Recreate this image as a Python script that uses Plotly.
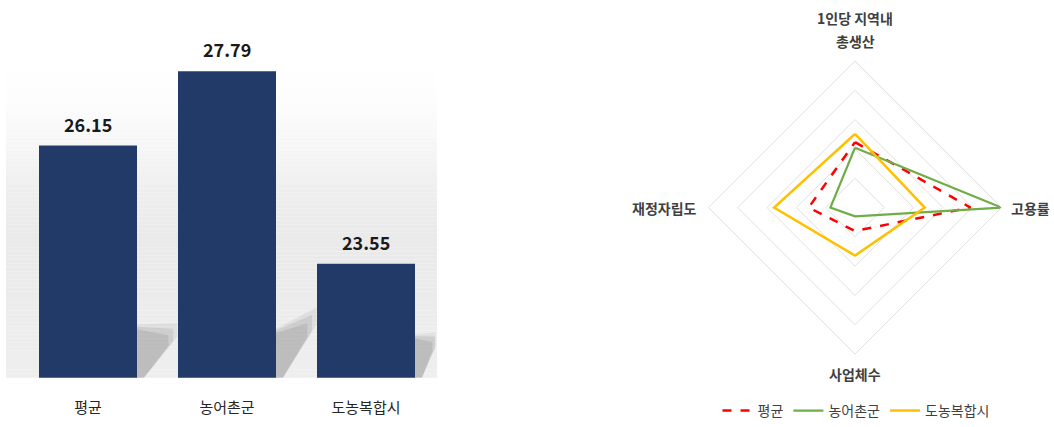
import plotly.graph_objects as go

# ---- data ----
bar_categories = ["평균", "농어촌군", "도농복합시"]
bar_values = [26.15, 27.79, 23.55]

radar_axes = ["1인당 지역내<br>총생산", "고용률", "사업체수", "재정자립도"]
radar_avg = [2.23, 3.94, 0.80, 1.58]
radar_rural = [2.04, 4.99, 0.30, 0.84]
radar_urban = [2.51, 2.38, 1.64, 2.76]
radar_names = ["평균", "농어촌군", "도농복합시"]

FONT = "Noto Sans CJK KR"
W, H = 1054, 427
BASE = 21.04

fig = go.Figure()

fig.add_trace(go.Bar(
    x=bar_categories, y=bar_values, marker=dict(color="#223A68", line=dict(width=0)),
    width=0.705, showlegend=False, xaxis="x", yaxis="y", hoverinfo="skip"))

for v, c in zip(bar_values, bar_categories):
    fig.add_annotation(x=c, y=v, xref="x", yref="y", text=f"{v:.2f}", showarrow=False,
                       yanchor="bottom", yshift=7,
                       font=dict(family=FONT, size=18, color="#1a1a1a", weight="bold"))

def closed(vals):
    return vals + vals[:1]

theta = closed(radar_axes)
styles = [
    dict(color="#FF0000", width=2.5, dash="dash"),
    dict(color="#70AD47", width=2.2),
    dict(color="#FFC000", width=2.5),
]
for name, vals, st in zip(radar_names, [radar_avg, radar_rural, radar_urban], styles):
    fig.add_trace(go.Scatterpolar(r=closed(vals), theta=theta, mode="lines", name=name,
                                  line=st, subplot="polar", hoverinfo="skip"))

# background gradient for bar panel
shapes = []
top_px, bot_px = 40, 384
n = 86
for i in range(n):
    ya = bot_px - (bot_px - top_px) * i / n
    yb = bot_px - (bot_px - top_px) * (i + 1) / n
    ym = (ya + yb) / 2
    if ym < 70:
        g = 255
    elif ym < 250:
        s = (ym - 70) / 180
        s = s * s * (3 - 2 * s)
        g = 255 - 21 * s
    else:
        g = 234 + (ym - 250) / 134 * 5
    shapes.append(dict(type="rect", xref="paper", yref="paper",
                       x0=6 / W, x1=437 / W, y0=1 - ya / H, y1=1 - yb / H,
                       fillcolor=f"rgb({int(g)},{int(g)},{int(g)})", line=dict(width=0),
                       layer="below"))
# soft shadows behind bars (quadrilaterals, layered for blur)
shadow_h0 = [1.17, 1.08, 0.95]
shadow_h1 = [1.20, 1.54, 1.0]
shadow_w = [0.29, 0.29, 0.16]
for i in range(len(bar_values)):
    edge = i + 0.352
    for scale, alpha in [(1.0, 0.15), (0.9, 0.2), (0.78, 0.25)]:
        h0 = shadow_h0[i] * (0.6 + 0.4 * scale)
        h1 = shadow_h1[i] * scale
        dx = shadow_w[i] * scale
        shapes.append(dict(type="path", xref="x", yref="y", layer="below",
                           path=(f"M {edge},{BASE} L {edge},{BASE + h0} "
                                 f"L {edge + dx},{BASE + h1} L {edge + dx},{BASE + h1 * 0.75} "
                                 f"L {edge + 0.05},{BASE} Z"),
                           fillcolor=f"rgba(140,140,140,{alpha})", line=dict(width=0)))

# radar axis labels
label_font = dict(family=FONT, size=14, color="#404040", weight="bold")
ann = [
    ("1인당 지역내", 855, 18), ("총생산", 855, 42),
    ("고용률", 1030, 211), ("사업체수", 855, 380), ("재정자립도", 664, 211),
]
for txt, x, y in ann:
    fig.add_annotation(x=x / W, y=1 - y / H, xref="paper", yref="paper", text=txt,
                       showarrow=False, xanchor="center", yanchor="middle", font=label_font)

fig.update_layout(
    width=W, height=H, margin=dict(l=0, r=0, t=0, b=0),
    paper_bgcolor="white", plot_bgcolor="rgba(0,0,0,0)",
    font=dict(family=FONT, color="#333333"),
    shapes=shapes,
    xaxis=dict(domain=[18.5 / W, 435.5 / W], range=[-0.5, 2.5], showgrid=False, showline=False,
               zeroline=False, ticks="", ticklabelstandoff=19,
               tickfont=dict(family=FONT, size=15, color="#262626")),
    yaxis=dict(domain=[1 - 384 / H, 1 - 40 / H], range=[BASE, 28.49], showgrid=False,
               showline=False, zeroline=False, showticklabels=False),
    polar=dict(
        domain=dict(x=[706 / W, 1004 / W], y=[1 - 360 / H, 1 - 62 / H]),
        bgcolor="rgba(0,0,0,0)",
        gridshape="linear",
        radialaxis=dict(range=[0, 5], tickvals=[1, 2, 3, 4, 5], showticklabels=False,
                        showline=False, ticks="", gridcolor="#e0e0e0", gridwidth=1),
        angularaxis=dict(rotation=90, direction="clockwise", showgrid=False,
                         showline=True, linecolor="#e0e0e0", linewidth=1, ticks="",
                         showticklabels=False),
    ),
    legend=dict(orientation="h", x=856 / W, xanchor="center", y=1 - 418 / H, yanchor="middle",
                font=dict(family=FONT, size=14, color="#404040"),
                itemwidth=30, tracegroupgap=0, bgcolor="rgba(0,0,0,0)"),
)

fig.write_html("out.html")
